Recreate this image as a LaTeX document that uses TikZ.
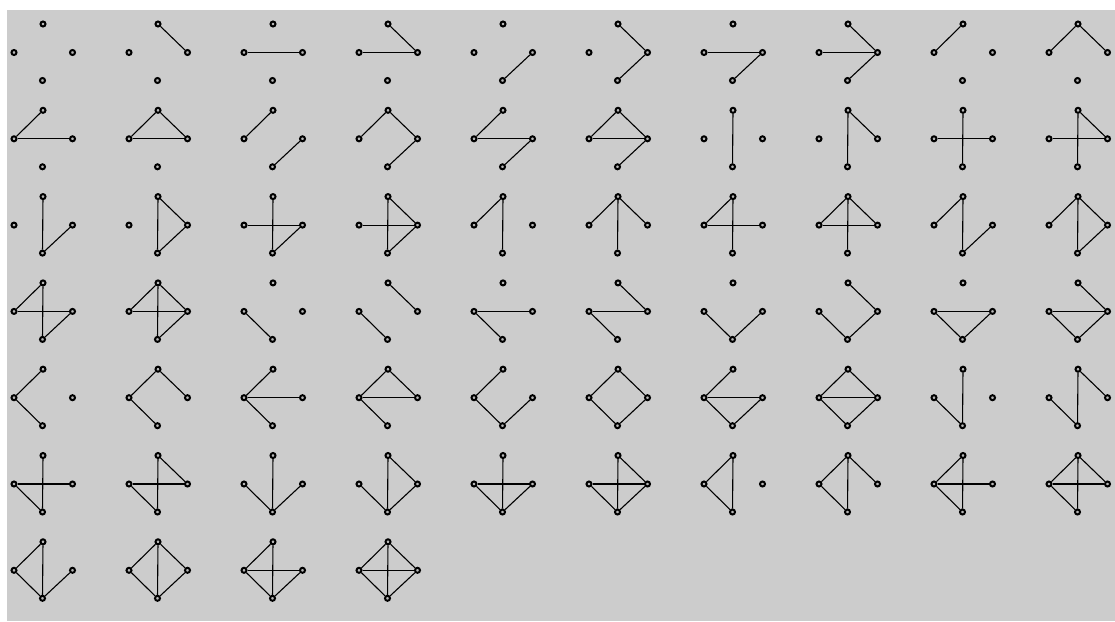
\documentclass[tikz,border=0pt]{standalone}
\begin{document}
\definecolor{bggray}{HTML}{CCCCCC}
\definecolor{vfill}{HTML}{B8B8B8}
\begin{tikzpicture}[x=1pt,y=-1pt,
  vtx/.style={circle,draw=black,fill=vfill,line width=2pt,inner sep=0pt,minimum size=5pt},
  edge/.style={draw=black,line width=1.1pt}]
\useasboundingbox (0,0) rectangle (1115,621);
\fill[white] (0,0) rectangle (1115,621);
\fill[bggray] (7,10) rectangle (1115,621);
\foreach \n in {0,...,63}{
  \pgfmathtruncatemacro\c{mod(\n,10)}
  \pgfmathtruncatemacro\r{div(\n,10)}
  \pgfmathsetmacro\x{115*\c}
  \pgfmathsetmacro\y{86.3*\r}
  \pgfmathtruncatemacro\ba{mod(\n,2)}
  \pgfmathtruncatemacro\bb{mod(div(\n,2),2)}
  \pgfmathtruncatemacro\bc{mod(div(\n,4),2)}
  \pgfmathtruncatemacro\bd{mod(div(\n,8),2)}
  \pgfmathtruncatemacro\be{mod(div(\n,16),2)}
  \pgfmathtruncatemacro\bf{mod(div(\n,32),2)}
  \begin{scope}[shift={(\x,\y)}]
    \node[vtx] (T\n) at (43,24) {};
    \node[vtx] (L\n) at (14,52.5) {};
    \node[vtx] (R\n) at (72.5,52.5) {};
    \node[vtx] (B\n) at (42.5,80.5) {};
  \end{scope}
  \ifnum\ba=1 \draw[edge] (T\n) -- (R\n); \fi
  \ifnum\bb=1 \draw[edge] (L\n) -- (R\n); \fi
  \ifnum\bc=1 \draw[edge] (B\n) -- (R\n); \fi
  \ifnum\bd=1 \draw[edge] (L\n) -- (T\n); \fi
  \ifnum\be=1 \draw[edge] (T\n) -- (B\n); \fi
  \ifnum\bf=1 \draw[edge] (L\n) -- (B\n); \fi
}
\end{tikzpicture}
\end{document}
